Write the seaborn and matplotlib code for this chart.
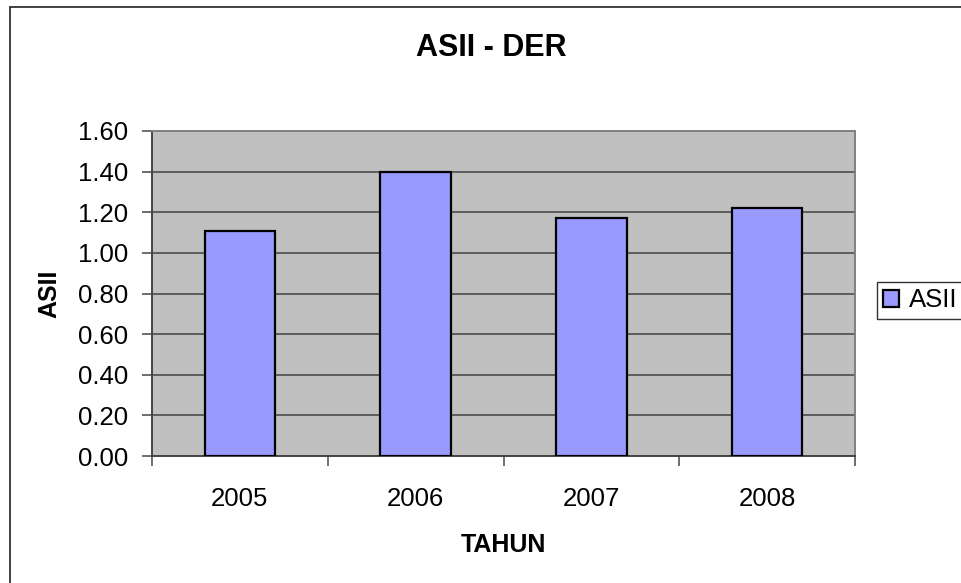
import matplotlib
matplotlib.use("Agg")
import matplotlib.pyplot as plt
import seaborn as sns
import pandas as pd
from matplotlib.lines import Line2D

# data
years = ["2005", "2006", "2007", "2008"]
asii = [1.11, 1.40, 1.17, 1.22]
y_ticks = [0.0, 0.2, 0.4, 0.6, 0.8, 1.0, 1.2, 1.4, 1.6]

df = pd.DataFrame({"TAHUN": years, "ASII": asii})

sns.set_style("white")
plt.rcParams["font.family"] = ["Liberation Sans", "DejaVu Sans"]
plt.rcParams["text.color"] = "black"
plt.rcParams["axes.labelcolor"] = "black"
plt.rcParams["xtick.color"] = "black"
plt.rcParams["ytick.color"] = "black"

fig = plt.figure(figsize=(9.61, 5.83), dpi=100)
ax = fig.add_axes([152 / 961, 1 - 456 / 583, 703 / 961, 325 / 583])
ax.set_facecolor("#C0C0C0")

sns.barplot(data=df, x="TAHUN", y="ASII", ax=ax, color="#9999FF",
            width=0.4, edgecolor="black", linewidth=1.6, saturation=1,
            label="ASII", zorder=3)

ax.set_ylim(0, 1.6)
ax.set_xlim(-0.5, len(years) - 0.5)
ax.set_yticks(y_ticks)
ax.set_yticklabels([f"{v:.2f}" for v in y_ticks])
ax.yaxis.grid(True, color="#555555", linewidth=1.3, zorder=1)
ax.set_axisbelow(True)

# ticks between categories on x, labels centered without marks
ax.set_xticks([i - 0.5 for i in range(len(years) + 1)], minor=True)
ax.tick_params(axis="x", which="minor", length=7, width=1.2, color="#555555",
               direction="out", bottom=True)
ax.tick_params(axis="x", which="major", length=0, pad=22, labelsize=18.5,
               labelcolor="black")
ax.tick_params(axis="y", length=7, width=1.2, color="#555555",
               direction="out", left=True, pad=10, labelsize=18.5,
               labelcolor="black")

for side in ["left", "bottom"]:
    ax.spines[side].set_color("#444444")
    ax.spines[side].set_linewidth(1.4)
for side in ["top", "right"]:
    ax.spines[side].set_color("#808080")
    ax.spines[side].set_linewidth(1.4)

ax.set_xlabel("TAHUN", fontsize=18, fontweight="bold", labelpad=16,
              color="black")
ax.set_ylabel("ASII", fontsize=18, fontweight="bold", labelpad=12,
              color="black")

fig.text(491 / 961, 1 - 48 / 583, "ASII - DER", fontsize=22,
         fontweight="bold", ha="center", va="center", color="black")

leg = ax.legend(loc="upper left", bbox_to_anchor=(877 / 961, 1 - 282 / 583),
                bbox_transform=fig.transFigure, fontsize=18.5, frameon=True,
                fancybox=False, edgecolor="black", handlelength=0.6,
                handleheight=0.6, handletextpad=0.4, borderpad=0.25,
                borderaxespad=0)
leg.get_frame().set_linewidth(1.0)
for t in leg.get_texts():
    t.set_color("black")

# chart-area border (only top/left visible in the crop)
fig.add_artist(Line2D([9.5 / 961, 9.5 / 961], [0, 1 - 6.5 / 583],
                      transform=fig.transFigure, color="#333333", linewidth=1.3))
fig.add_artist(Line2D([9.5 / 961, 1], [1 - 6.5 / 583, 1 - 6.5 / 583],
                      transform=fig.transFigure, color="#333333", linewidth=1.3))

fig.savefig("out.png", dpi=100)
